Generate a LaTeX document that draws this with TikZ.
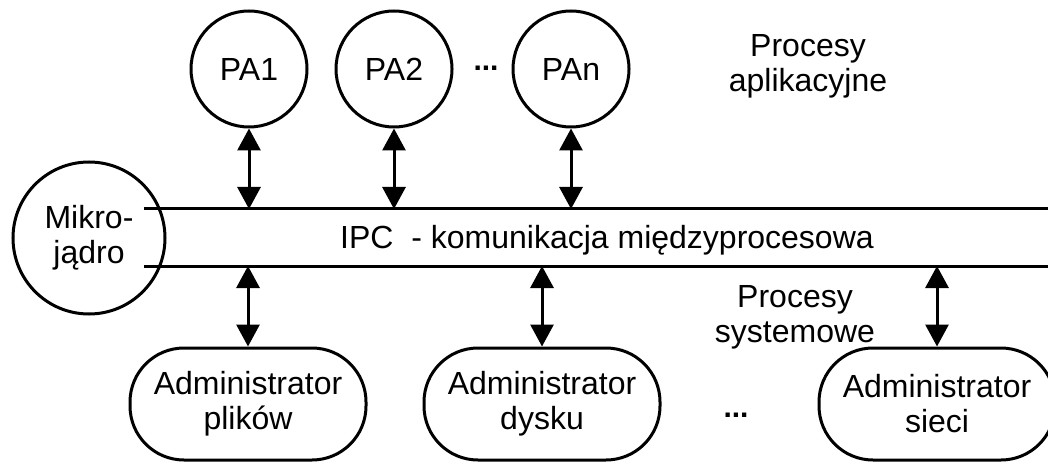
\documentclass[tikz,border=0pt]{standalone}
\usepackage{fontspec}
\setmainfont{Liberation Sans}
\usetikzlibrary{arrows.meta}
\begin{document}
\begin{tikzpicture}[x=1pt,y=-1pt,
  every node/.style={font=\fontsize{32}{35}\selectfont, align=center, inner sep=0pt},
  proc/.style={draw, circle, line width=3pt, minimum size=116pt},
  kern/.style={draw, circle, line width=3pt, minimum size=152pt},
  admin/.style={draw, rounded corners=54pt, line width=3pt, minimum width=236pt, minimum height=112pt},
  link/.style={line width=3pt, {Triangle[length=22pt,width=23pt]}-{Triangle[length=22pt,width=23pt]}},
  busline/.style={line width=3pt},
  dots/.style={font=\fontsize{30}{35}\selectfont\bfseries, anchor=base}]
\useasboundingbox (0,0) rectangle (1048,462);
\begin{scope}
\clip (0,0) rectangle (1048,462);
% application processes
\node[proc] (pa1) at (249,69) {PA1};
\node[proc] (pa2) at (394,69) {PA2};
\node[proc] (pan) at (571,69) {PAn};
\node[dots] (dtop) at (486,71) {...};
\node (appl) at (808,66) {Procesy\\aplikacyjne};
% microkernel and bus
\node[kern] (kern) at (89,238) {Mikro-\\jądro};
\node[minimum width=890pt, minimum height=57pt, outer sep=0pt] (bus) at (603,237.5) {};
\draw[busline] (kern.north east |- bus.north) -- (bus.north east);
\draw[busline] (kern.south east |- bus.south) -- (bus.south east);
\node[anchor=base] (ipc) at (607,248) {IPC\ \ - komunikacja międzyprocesowa};
% system processes
\node[admin] (adm1) at (248,404) {Administrator\\plików};
\node[admin] (adm2) at (542,404) {Administrator\\dysku};
\node[admin] (adm3) at (937,404) {Administrator\\sieci};
\node[dots] (dbot) at (736,417) {...};
\node (sys) at (795,317) {Procesy\\systemowe};
% links
\draw[link] (pa1.south) -- (pa1.south |- bus.north);
\draw[link] (pa2.south) -- (pa2.south |- bus.north);
\draw[link] (pan.south) -- (pan.south |- bus.north);
\draw[link] (bus.south -| adm1.north) -- (adm1.north);
\draw[link] (bus.south -| adm2.north) -- (adm2.north);
\draw[link] (bus.south -| adm3.north) -- (adm3.north);
\end{scope}
\end{tikzpicture}
\end{document}
